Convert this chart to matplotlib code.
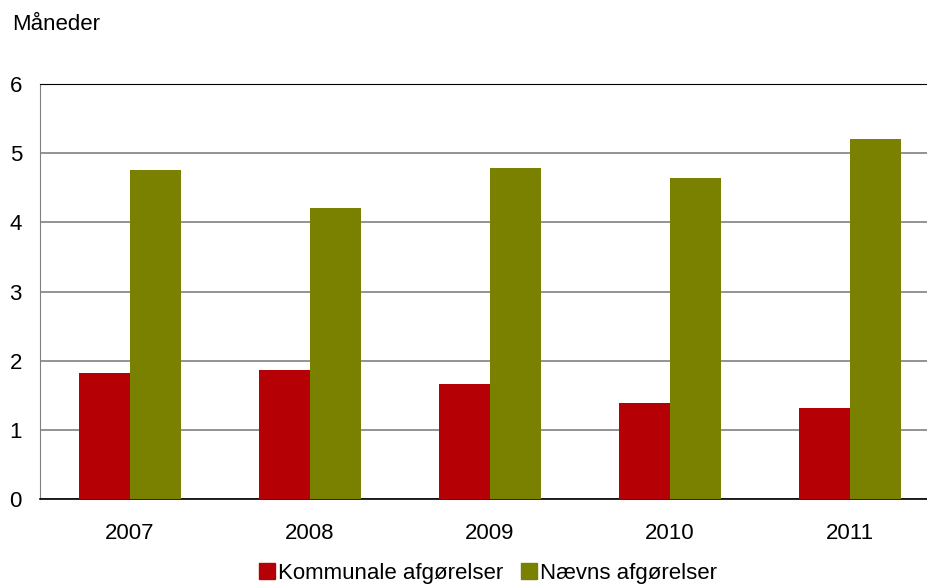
import numpy as np
import matplotlib.pyplot as plt
from matplotlib.patches import Patch

plt.rcParams['font.family'] = ['Liberation Sans', 'DejaVu Sans']

years = ['2007', '2008', '2009', '2010', '2011']
kommunale = [1.82, 1.87, 1.66, 1.39, 1.32]
naevns = [4.76, 4.21, 4.79, 4.64, 5.20]

red = '#B50005'
green = '#7A8000'
fs = 16

fig = plt.figure(figsize=(9.28, 5.87), dpi=100)
W, H = 928, 587
ax = fig.add_axes([40 / W, (H - 499) / H, (928 - 40) / W, (499 - 84) / H])

x = np.arange(len(years))
bw = 0.283
ax.bar(x - bw / 2, kommunale, bw, color=red, zorder=3)
ax.bar(x + bw / 2, naevns, bw, color=green, zorder=3)

ax.set_ylim(0, 6)
ax.set_xlim(-0.5, -0.5 + 888 / 180)
ax.set_yticks(range(7))
ax.yaxis.grid(True, color='#808080', linewidth=1.2, zorder=0)
ax.set_xticks(x)
ax.set_xticklabels(years)
ax.tick_params(axis='both', length=0, labelsize=fs)
ax.tick_params(axis='x', pad=17)
ax.tick_params(axis='y', pad=13)

ax.spines['right'].set_visible(False)
ax.spines['top'].set_color('black')
ax.spines['left'].set_color('#808080')
ax.spines['bottom'].set_color('black')
ax.spines['bottom'].set_linewidth(1.2)

fig.text(12 / W, 1 - 24 / H, 'Måneder', fontsize=fs, va='center', ha='left')

handles = [Patch(color=red, label='Kommunale afgørelser'),
           Patch(color=green, label='Nævns afgørelser')]
fig.legend(handles=handles, loc='center', bbox_to_anchor=(488 / W, 1 - 573 / H),
           ncol=2, frameon=False, fontsize=fs, handlelength=0.7, handleheight=0.7,
           handletextpad=0.15, columnspacing=0.8, borderpad=0)

fig.savefig('out.png', dpi=100)
